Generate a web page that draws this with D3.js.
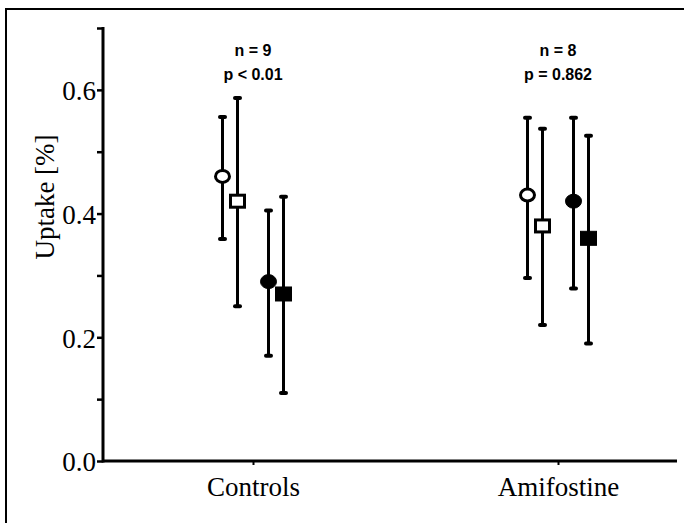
<!DOCTYPE html>
<html>
<head>
<meta charset="utf-8">
<script src="https://cdn.jsdelivr.net/npm/d3@7"></script>
<style>
    body { margin: 0; background: #fff; }
    svg { display: block; }
    .tick-label { font-family: "Liberation Serif", "Times New Roman", serif; font-size: 27px; fill: #000; }
    .note { font-family: "Liberation Sans", Arial, sans-serif; font-weight: bold; font-size: 16px; fill: #000; }
</style>
</head>
<body>
<svg id="chart" width="684" height="523"></svg>
<script>
// data
var groups = ["Controls", "Amifostine"];
var seriesKeys = ["openCircle", "openSquare", "filledCircle", "filledSquare"];

var controlsMean = [0.46, 0.42, 0.29, 0.27];
var controlsHigh = [0.556, 0.587, 0.405, 0.427];
var controlsLow = [0.359, 0.25, 0.17, 0.11];

var amifostineMean = [0.43, 0.38, 0.42, 0.36];
var amifostineHigh = [0.555, 0.537, 0.555, 0.526];
var amifostineLow = [0.296, 0.22, 0.279, 0.19];

var noteN = ["n = 9", "n = 8"];
var noteP = ["p < 0.01", "p = 0.862"];

var yMajorTicks = [0, 0.2, 0.4, 0.6];
var yMinorTicks = [0.1, 0.3, 0.5, 0.7];

var svg = d3.select("#chart");

// outer frame (top + left only, the rest is cut off)
svg.append("path")
    .attr("d", "M6,523V9H684")
    .attr("fill", "none")
    .attr("stroke", "#000")
    .attr("stroke-width", 2);

var axisX0 = 103, axisX1 = 677;

var y = d3.scaleLinear().domain([0, 0.7]).range([461, 28]);
var x = d3.scalePoint().domain(groups).range([253, 558]);
var pair = d3.scalePoint().domain(["open", "filled"]).range([-23, 23]);
var inner = d3.scalePoint().domain(["circle", "square"]).range([-7.5, 7.5]);

function seriesOffset(key){
    var fill = key.indexOf("open") == 0 ? "open" : "filled";
    var shape = key.toLowerCase().indexOf("circle") >= 0 ? "circle" : "square";
    return pair(fill) + inner(shape);
}

// y axis
var yAxis = svg.append("g")
    .attr("transform", "translate(" + axisX0 + ",0)")
    .call(d3.axisLeft(y).tickValues(yMajorTicks).tickFormat(d3.format(".1f")).tickSize(6).tickPadding(1));
yAxis.select(".domain").remove();
yAxis.selectAll(".tick line").attr("stroke-width", 2.5);
yAxis.selectAll(".tick text").attr("class", "tick-label").attr("font-size", null).attr("font-family", null).attr("dy", "0.36em");

svg.append("g")
    .attr("transform", "translate(" + axisX0 + ",0)")
    .call(d3.axisLeft(y).tickValues(yMinorTicks).tickFormat("").tickSize(6))
    .call(g => g.select(".domain").remove())
    .selectAll(".tick line").attr("stroke-width", 2.5);

svg.append("line")
    .attr("x1", axisX0).attr("x2", axisX0)
    .attr("y1", y(0.7) - 1).attr("y2", y(0) + 1.5)
    .attr("stroke", "#000").attr("stroke-width", 3);

// x axis
svg.append("line")
    .attr("x1", axisX0).attr("x2", axisX1)
    .attr("y1", y(0)).attr("y2", y(0))
    .attr("stroke", "#000").attr("stroke-width", 3);

var xAxis = svg.append("g")
    .attr("transform", "translate(0," + y(0) + ")")
    .call(d3.axisBottom(x).tickSize(4).tickPadding(12));
xAxis.select(".domain").remove();
xAxis.selectAll(".tick line").attr("stroke-width", 2);
xAxis.selectAll(".tick text").attr("class", "tick-label").attr("font-size", null).attr("font-family", null);

// y title
svg.append("text")
    .attr("class", "tick-label")
    .attr("transform", "translate(54,197) rotate(-90)")
    .attr("text-anchor", "middle")
    .text("Uptake [%]");

// notes
groups.forEach((g, i) => {
    svg.append("text").attr("class", "note").attr("x", x(g)).attr("y", 56)
        .attr("text-anchor", "middle").text(noteN[i]);
    svg.append("text").attr("class", "note").attr("x", x(g)).attr("y", 80)
        .attr("text-anchor", "middle").text(noteP[i]);
});

// build rows
var rows = [];
var tables = [[controlsMean, controlsLow, controlsHigh], [amifostineMean, amifostineLow, amifostineHigh]];
groups.forEach((g, gi) => {
    seriesKeys.forEach((k, si) => {
        rows.push({
            group: g, key: k,
            mean: tables[gi][0][si], low: tables[gi][1][si], high: tables[gi][2][si]
        });
    });
});

function cx(d){ return x(d.group) + seriesOffset(d.key); }

var marks = svg.append("g");

marks.selectAll(".bar").data(rows).enter().append("line")
    .attr("x1", cx).attr("x2", cx)
    .attr("y1", d => y(d.low)).attr("y2", d => y(d.high))
    .attr("stroke", "#000").attr("stroke-width", 3);

marks.selectAll(".cap").data(rows.flatMap(d => [[d, d.low], [d, d.high]])).enter().append("line")
    .attr("x1", d => cx(d[0]) - 2.5).attr("x2", d => cx(d[0]) + 2.5)
    .attr("y1", d => y(d[1])).attr("y2", d => y(d[1]))
    .attr("stroke", "#000").attr("stroke-width", 4).attr("stroke-linecap", "round");

rows.forEach(d => {
    var open = d.key.indexOf("open") == 0;
    var fill = open ? "#fff" : "#000";
    if (d.key.toLowerCase().indexOf("circle") >= 0) {
        marks.append("ellipse")
            .attr("cx", cx(d)).attr("cy", y(d.mean))
            .attr("rx", open ? 7 : 8).attr("ry", open ? 6 : 7)
            .attr("fill", fill).attr("stroke", "#000").attr("stroke-width", open ? 3 : 1);
    } else {
        marks.append("rect")
            .attr("x", cx(d) - (open ? 7 : 8)).attr("y", y(d.mean) - (open ? 6 : 7))
            .attr("width", open ? 14 : 16).attr("height", open ? 12 : 14)
            .attr("fill", fill).attr("stroke", "#000").attr("stroke-width", open ? 3 : 1);
    }
});
</script>
</body>
</html>
